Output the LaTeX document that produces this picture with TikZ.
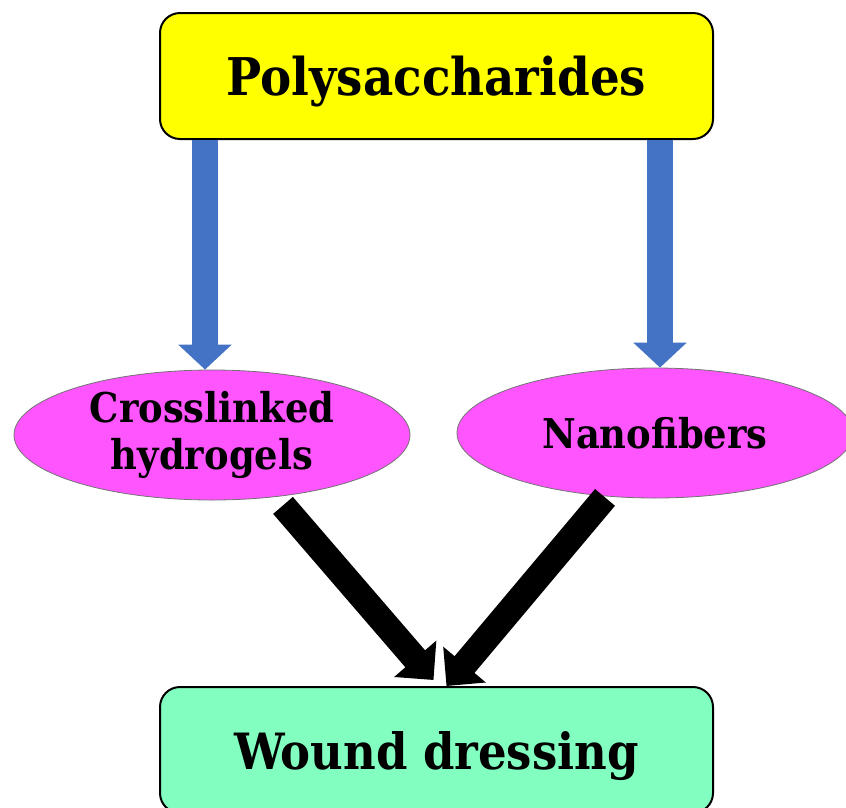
\documentclass[tikz,border=0pt]{standalone}
\usepackage{fontspec}
\setmainfont{DejaVu Serif Condensed}
\usepackage{tikz}
\usepackage{xcolor}
\usetikzlibrary{arrows.meta,calc,shapes.geometric}

\definecolor{polyyellow}{HTML}{FFFF00}
\definecolor{gelpink}{HTML}{FF55FF}
\definecolor{woundgreen}{HTML}{82FFC0}
\definecolor{arrowblue}{HTML}{4472C4}

\begin{document}
\begin{tikzpicture}[x=1pt,y=-1pt,
    box/.style={draw,line width=2pt,rounded corners=20pt,minimum width=553pt,minimum height=126pt,inner sep=0pt,text depth=0pt,font=\fontsize{52}{56}\selectfont\bfseries},
    blob/.style={ellipse,draw=black!55,line width=0.8pt,fill=gelpink,minimum width=396pt,minimum height=130pt,inner sep=0pt,align=center,font=\fontsize{41}{47}\selectfont\bfseries},
    bluearrow/.style={arrowblue,line width=26pt,-{Triangle[width=52pt,length=25pt]}},
    blackarrow/.style={black,line width=26pt,-{Triangle[width=54pt,length=28pt]}}]
  \useasboundingbox (0,0) rectangle (846,807);
  \clip (0,0) rectangle (846,807);

  % boxes
  \node[box,fill=polyyellow] (poly) at (436.5,76) {Polysaccharides};
  \node[box,fill=woundgreen,font=\fontsize{50}{56}\selectfont\bfseries] (wound) at (436.5,750) {Wound dressing};

  % ellipses
  \node[blob] (gels) at (212,435) {Crosslinked\\hydrogels};
  \node[blob] (fibers) at (655,433) {Nanofibers};

  % blue arrows
  \draw[bluearrow] ([xshift=-7pt]gels.north |- poly.south) -- ([xshift=-7pt]gels.north);
  \draw[bluearrow] ([xshift=5pt]fibers.north |- poly.south) -- ([xshift=5pt]fibers.north);

  % black arrows
  \draw[blackarrow] ($(gels.south)+(71,5)$) -- ($(wound.north)+(-3,-6)$);
  \draw[blackarrow] ($(fibers.south)+(-50,-1)$) -- ($(wound.north)+(10,0)$);
\end{tikzpicture}
\end{document}
